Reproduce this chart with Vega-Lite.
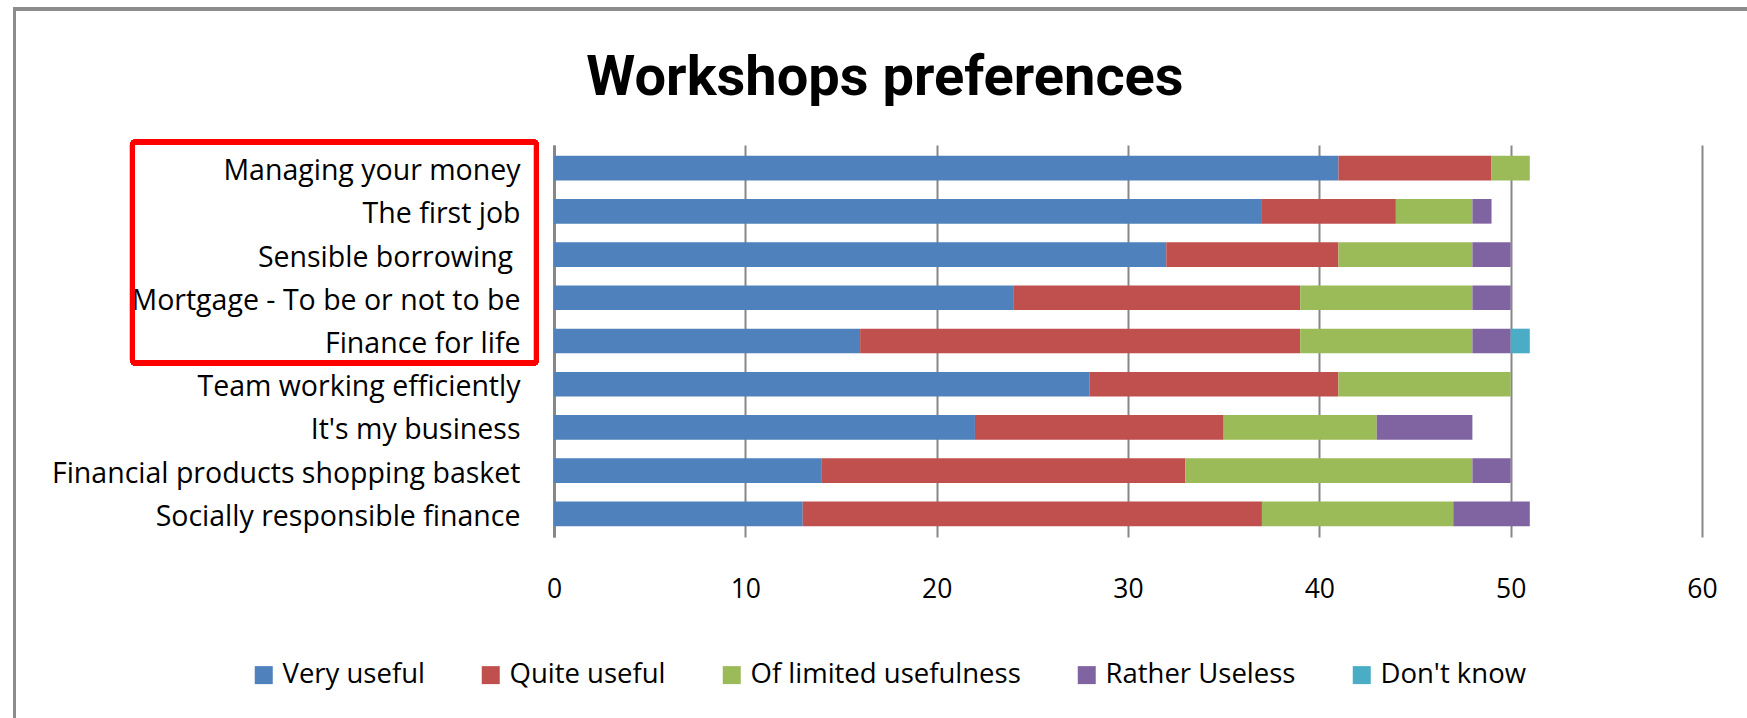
{
  "$schema": "https://vega.github.io/schema/vega-lite/v6.json",
  "autosize": {"type": "none"},
  "padding": {"left": 554, "top": 145, "right": 45, "bottom": 181},
  "width": 1148,
  "height": 392,
  "background": "white",
  "title": {
    "text": "Workshops preferences",
    "font": "Roboto",
    "fontWeight": "bold",
    "fontSize": 56,
    "color": "black",
    "anchor": "middle",
    "frame": "group",
    "baseline": "alphabetic",
    "offset": -82,
    "dx": -243,
    "dy": 61
  },
  "config": {
    "view": {"stroke": null},
    "legend": {"padding": 0}
  },
  "data": {
    "values": [
      {"workshop": "Managing your money", "rating": "Very useful", "count": 41},
      {"workshop": "Managing your money", "rating": "Quite useful", "count": 8},
      {"workshop": "Managing your money", "rating": "Of limited usefulness", "count": 2},
      {"workshop": "The first job", "rating": "Very useful", "count": 37},
      {"workshop": "The first job", "rating": "Quite useful", "count": 7},
      {"workshop": "The first job", "rating": "Of limited usefulness", "count": 4},
      {"workshop": "The first job", "rating": "Rather Useless", "count": 1},
      {"workshop": "Sensible borrowing\u00a0\u200b", "rating": "Very useful", "count": 32},
      {"workshop": "Sensible borrowing\u00a0\u200b", "rating": "Quite useful", "count": 9},
      {"workshop": "Sensible borrowing\u00a0\u200b", "rating": "Of limited usefulness", "count": 7},
      {"workshop": "Sensible borrowing\u00a0\u200b", "rating": "Rather Useless", "count": 2},
      {"workshop": "Mortgage - To be or not to be", "rating": "Very useful", "count": 24},
      {"workshop": "Mortgage - To be or not to be", "rating": "Quite useful", "count": 15},
      {"workshop": "Mortgage - To be or not to be", "rating": "Of limited usefulness", "count": 9},
      {"workshop": "Mortgage - To be or not to be", "rating": "Rather Useless", "count": 2},
      {"workshop": "Finance for life", "rating": "Very useful", "count": 16},
      {"workshop": "Finance for life", "rating": "Quite useful", "count": 23},
      {"workshop": "Finance for life", "rating": "Of limited usefulness", "count": 9},
      {"workshop": "Finance for life", "rating": "Rather Useless", "count": 2},
      {"workshop": "Finance for life", "rating": "Don't know", "count": 1},
      {"workshop": "Team working efficiently", "rating": "Very useful", "count": 28},
      {"workshop": "Team working efficiently", "rating": "Quite useful", "count": 13},
      {"workshop": "Team working efficiently", "rating": "Of limited usefulness", "count": 9},
      {"workshop": "It's my business", "rating": "Very useful", "count": 22},
      {"workshop": "It's my business", "rating": "Quite useful", "count": 13},
      {"workshop": "It's my business", "rating": "Of limited usefulness", "count": 8},
      {"workshop": "It's my business", "rating": "Rather Useless", "count": 5},
      {"workshop": "Financial products shopping basket", "rating": "Very useful", "count": 14},
      {"workshop": "Financial products shopping basket", "rating": "Quite useful", "count": 19},
      {"workshop": "Financial products shopping basket", "rating": "Of limited usefulness", "count": 15},
      {"workshop": "Financial products shopping basket", "rating": "Rather Useless", "count": 2},
      {"workshop": "Socially responsible finance", "rating": "Very useful", "count": 13},
      {"workshop": "Socially responsible finance", "rating": "Quite useful", "count": 24},
      {"workshop": "Socially responsible finance", "rating": "Of limited usefulness", "count": 10},
      {"workshop": "Socially responsible finance", "rating": "Rather Useless", "count": 4}
    ]
  },
  "resolve": {"scale": {"y": "independent"}},
  "layer": [
    {
      "transform": [
        {"calculate": "indexof(['Very useful', 'Quite useful', 'Of limited usefulness', 'Rather Useless', \"Don't know\"], datum.rating)", "as": "ord"}
      ],
      "mark": {"type": "bar", "strokeWidth": 0},
      "encoding": {
        "y": {
          "field": "workshop",
          "type": "nominal",
          "sort": null,
          "scale": {"paddingInner": 0.43, "paddingOuter": 0.25},
          "axis": {
            "title": null,
            "ticks": false,
            "domain": true,
            "domainColor": "#878787",
            "domainWidth": 3,
            "grid": false,
            "labelFont": "Open Sans",
            "labelFontSize": 28.5,
            "labelColor": "black",
            "labelPadding": 34,
            "labelOffset": 3,
            "labelLimit": 700
          }
        },
        "x": {
          "field": "count",
          "type": "quantitative",
          "stack": "zero",
          "scale": {"domain": [0, 60], "nice": false},
          "axis": {
            "title": null,
            "values": [0, 10, 20, 30, 40, 50, 60],
            "grid": true,
            "gridColor": "#878787",
            "gridWidth": 2,
            "domain": false,
            "ticks": false,
            "labelFont": "Open Sans",
            "labelFontSize": 26.5,
            "labelColor": "black",
            "labelPadding": 39,
            "labelFlush": false,
            "labelOverlap": false
          }
        },
        "order": {"field": "ord", "type": "quantitative"},
        "color": {
          "field": "rating",
          "type": "nominal",
          "sort": ["Very useful", "Quite useful", "Of limited usefulness", "Rather Useless", "Don't know"],
          "scale": {
            "domain": ["Very useful", "Quite useful", "Of limited usefulness", "Rather Useless", "Don't know"],
            "range": ["#4f81bd", "#c0504d", "#9bbb59", "#8064a2", "#4bacc6"]
          },
          "legend": {
            "title": null,
            "orient": "none",
            "direction": "horizontal",
            "legendX": -304,
            "legendY": 516,
            "symbolType": "square",
            "symbolSize": 324,
            "symbolStrokeWidth": 0,
            "labelFont": "Open Sans",
            "labelFontSize": 27.5,
            "labelColor": "black",
            "labelOffset": 5,
            "columnPadding": 52,
            "labelLimit": 500
          }
        }
      }
    },
    {
      "mark": {"type": "rect", "fill": null, "filled": false, "stroke": "#8c8c8c", "strokeWidth": 2.5},
      "encoding": {
        "x": {"datum": -28.2, "type": "quantitative"},
        "x2": {"datum": 63.0},
        "y": {"datum": -3.122, "type": "quantitative", "scale": {"domain": [0, 9], "nice": false, "zero": false, "reverse": true}, "axis": null},
        "y2": {"datum": 13.66}
      }
    },
    {
      "mark": {"type": "rect", "fill": null, "filled": false, "stroke": "#ff0000", "strokeWidth": 5, "cornerRadius": 3},
      "encoding": {
        "x": {"datum": -22.03, "type": "quantitative"},
        "x2": {"datum": -0.915},
        "y": {"datum": -0.069, "type": "quantitative", "scale": {"domain": [0, 9], "nice": false, "zero": false, "reverse": true}, "axis": null},
        "y2": {"datum": 5.005}
      }
    }
  ]
}
